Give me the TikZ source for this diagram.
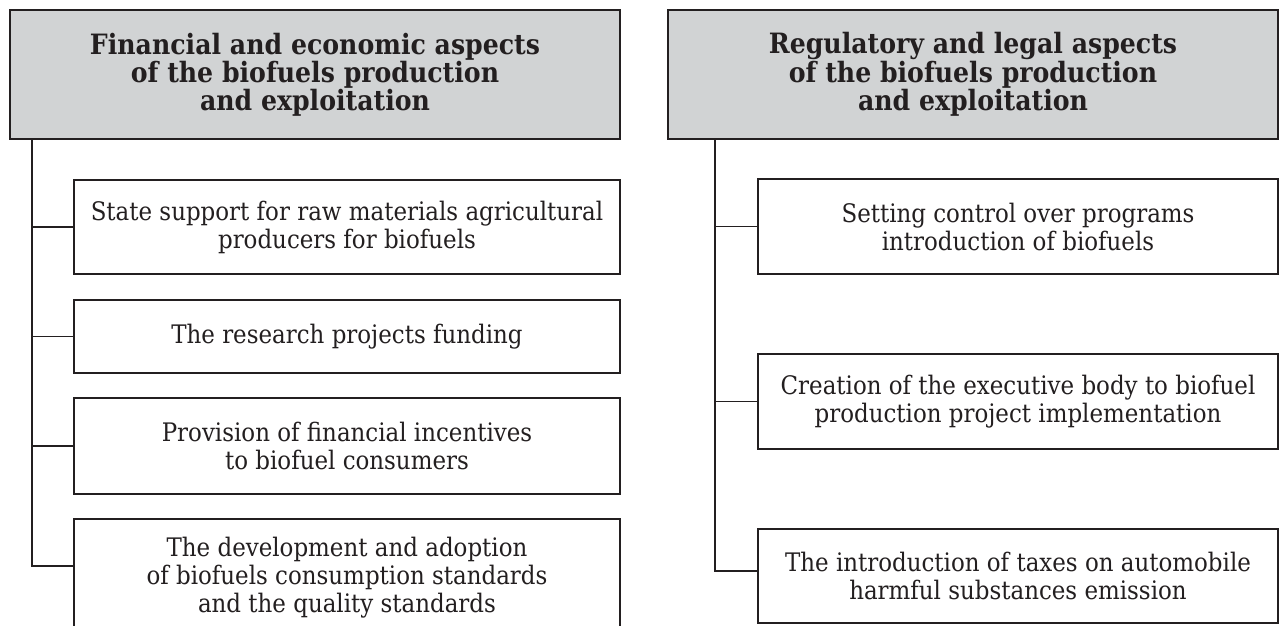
\documentclass[tikz,border=0pt]{standalone}
\usepackage{fontspec}
\setmainfont[FakeStretch=0.9]{DejaVu Serif}
\usetikzlibrary{calc}
\definecolor{ink}{HTML}{231F20}
\definecolor{headfill}{HTML}{D1D3D4}
\tikzset{
  headbox/.style={draw=ink, fill=headfill, line width=2.4pt, anchor=north west,
    inner sep=0pt, outer sep=0pt, minimum width=610pt, minimum height=129pt,
    align=center, text=ink, font=\fontsize{28}{26}\selectfont\bfseries},
  itembox/.style={draw=ink, fill=white, line width=2.4pt, anchor=north west,
    inner sep=0pt, outer sep=0pt, align=center, text=ink,
    font=\fontsize{25.5}{28}\selectfont},
  link/.style={draw=ink, line width=1.8pt}
}
\begin{document}
\begin{tikzpicture}[x=1pt,y=-1pt]
\useasboundingbox (0,0) rectangle (1279,625);
\begin{scope}
\clip (0,0) rectangle (1279,625);
% left column
\node[headbox] (hL) at (10,10) {Financial and economic aspects\\of the biofuels production\\and exploitation};
\node[itembox, minimum width=546pt, minimum height=94pt] (b1) at (74,180) {State support for raw materials agricultural\\producers for biofuels};
\node[itembox, minimum width=546pt, minimum height=73pt] (b2) at (74,300) {The research projects funding};
\node[itembox, minimum width=546pt, minimum height=96pt] (b3) at (74,398) {Provision of financial incentives\\to biofuel consumers};
\node[itembox, minimum width=546pt, minimum height=118pt] (b4) at (74,519) {The development and adoption\\of biofuels consumption standards\\and the quality standards};
\coordinate (tL) at (32,139);
\coordinate (b4c) at ([yshift=12pt]b4.west);
\draw[link] (tL) |- (b4c);
\draw[link] (tL |- b1.west) -- (b1.west);
\draw[link] (tL |- b2.west) -- (b2.west);
\draw[link] (tL |- b3.west) -- (b3.west);
% right column
\node[headbox] (hR) at (668,10) {Regulatory and legal aspects\\of the biofuels production\\and exploitation};
\node[itembox, minimum width=520pt, minimum height=95pt] (r1) at (758,179) {Setting control over programs\\introduction of biofuels};
\node[itembox, minimum width=520pt, minimum height=95pt] (r2) at (758,354) {Creation of the executive body to biofuel\\production project implementation};
\node[itembox, minimum width=520pt, minimum height=94pt] (r3) at (758,529) {The introduction of taxes on automobile\\harmful substances emission};
\coordinate (tR) at (715,139);
\coordinate (r3c) at ([yshift=5pt]r3.west);
\draw[link] (tR) |- (r3c);
\draw[link] (tR |- r1.west) -- (r1.west);
\draw[link] (tR |- r2.west) -- (r2.west);
\end{scope}
\end{tikzpicture}
\end{document}
